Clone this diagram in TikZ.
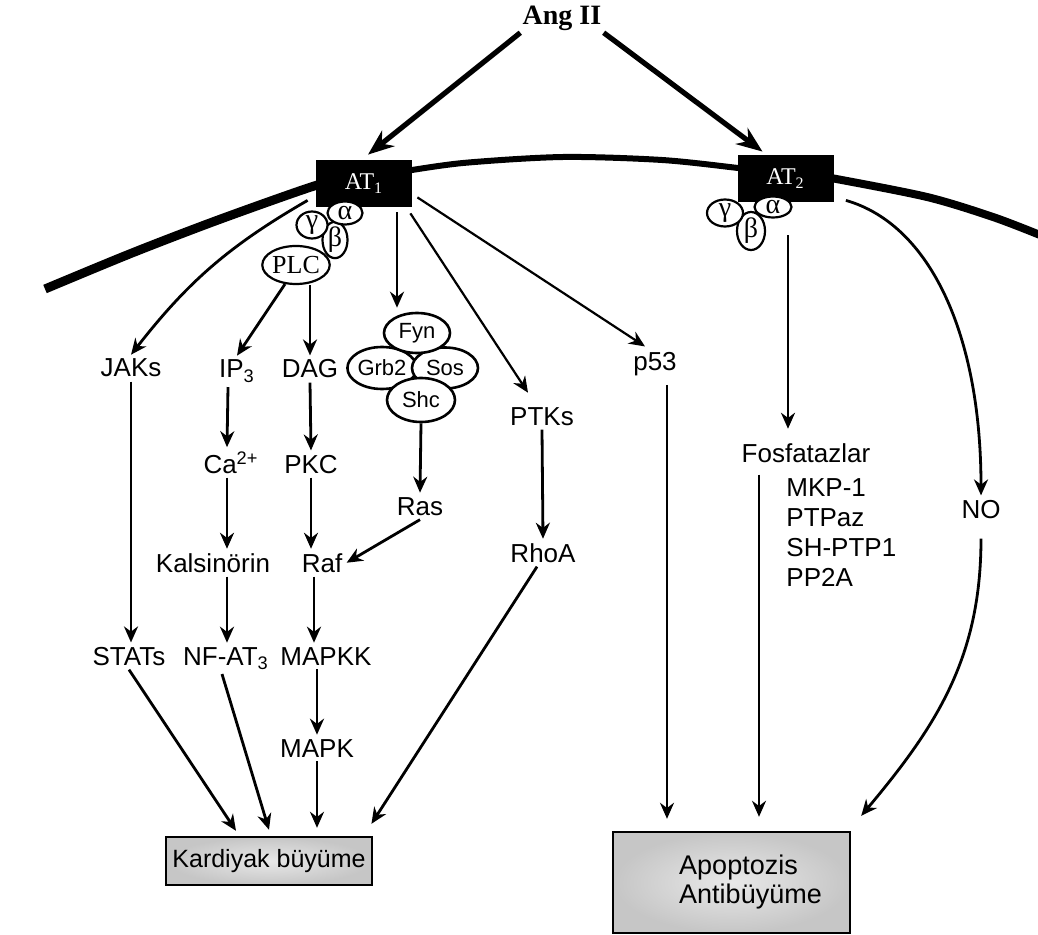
\documentclass[tikz,border=0pt]{standalone}
\usepackage{fontspec}
\setmainfont{Liberation Sans}
\newfontfamily\serifrm{Liberation Serif}
\usetikzlibrary{arrows.meta,calc,shapes.geometric}

\begin{document}
\begin{tikzpicture}[x=0.5pt, y=0.5pt,
          lbl/.style   = {font=\fontsize{13}{15}\selectfont, inner sep=2pt, anchor=base},
          rec/.style   = {fill=black, text=white, minimum width=48pt, minimum height=23.5pt,
                          inner sep=0pt, font=\serifrm\fontsize{12}{14}\selectfont},
          gp/.style    = {ellipse, draw, line width=1.1pt, fill=white, inner sep=0pt,
                          font=\serifrm\fontsize{14}{16}\selectfont},
          cplx/.style  = {ellipse, draw, line width=1.3pt, fill=white, inner sep=0pt,
                          font=\fontsize{11}{13}\selectfont},
          gbox/.style  = {draw, line width=1.2pt, shading=radial, inner color=gray!18, outer color=gray!45},
          arr/.style   = {-{Stealth[length=8pt,width=7pt]}, line width=1.4pt},
          tarr/.style  = {-{Stealth[length=8pt,width=7pt]}, line width=1.1pt},
          bigarr/.style= {-{Stealth[length=13pt,width=10pt]}, line width=2.6pt}
        ]
        \useasboundingbox (0,0) rectangle (1038,-935);

        % --- membrane
        \draw[line width=4.5pt] plot[smooth] coordinates {(45,-289) (132,-253) (218,-220) (311,-187) (340,-180)};
        \draw[line width=3pt]   plot[smooth] coordinates {(400,-172) (463,-163) (563,-157) (662,-160) (738,-168) (760,-171)};
        \draw[line width=4pt]   plot[smooth] coordinates {(815,-176) (831,-178) (927,-197) (993,-217) (1040,-235)};

        % --- receptors
        \node[font=\serifrm\bfseries\fontsize{14}{16}\selectfont, inner sep=1pt] (ang) at (562,-18) {Ang II};
        \node[rec] (AT1) at (364,-183.5) {AT\textsubscript{1}};
        \node[rec] (AT2) at (785.5,-178.5) {AT\textsubscript{2}};

        % --- G proteins
        \node[gp, minimum width=12.5pt, minimum height=17.5pt] (be1) at (335,-240) {β};
        \node[gp, minimum width=15.5pt, minimum height=13.5pt] (ga1) at (312,-225) {γ};
        \node[gp, minimum width=17.5pt, minimum height=11.5pt] (al1) at (345,-213) {α};
        \node[gp, minimum width=33pt, minimum height=19pt, font=\serifrm\fontsize{13}{15}\selectfont] (plc) at (296,-265) {PLC};
        \node[gp, minimum width=14pt, minimum height=19pt] (be2) at (751,-231) {β};
        \node[gp, minimum width=18pt, minimum height=13.5pt] (ga2) at (725,-213) {γ};
        \node[gp, minimum width=18.5pt, minimum height=10.5pt] (al2) at (773,-207) {α};

        % --- Fyn complex
        \node[cplx, minimum width=31pt, minimum height=21pt]   (grb) at (382,-368) {Grb2};
        \node[cplx, minimum width=33pt, minimum height=20.5pt] (sos) at (445,-368) {Sos};
        \node[cplx, minimum width=33pt, minimum height=20pt]   (fyn) at (417,-333) {Fyn};
        \node[cplx, minimum width=34pt, minimum height=22pt]   (shc) at (421,-400) {Shc};

        % --- labels
        \node[lbl] (jaks)  at (131,-377) {JAKs};
        \node[lbl] (ip3)   at (237,-378) {IP\textsubscript{3}};
        \node[lbl] (dag)   at (310,-378) {DAG};
        \node[lbl] (ptks)  at (542,-425) {PTKs};
        \node[lbl] (p53)   at (655,-371) {p53};
        \node[lbl] (ca)    at (231,-473) {Ca\textsuperscript{2+}};
        \node[lbl] (pkc)   at (311,-473) {PKC};
        \node[lbl] (ras)   at (420,-515) {Ras};
        \node[lbl] (kal)   at (213,-572) {Kalsinörin};
        \node[lbl] (raf)   at (322,-572) {Raf};
        \node[lbl] (rhoa)  at (543,-562) {RhoA};
        \node[lbl] (stats) at (129,-665) {STATs};
        \node[lbl] (nfat)  at (226,-665) {NF-AT\textsubscript{3}};
        \node[lbl] (mapkk) at (326,-665) {MAPKK};
        \node[lbl] (mapk)  at (317,-757) {MAPK};
        \node[lbl] (fosf)  at (806,-462) {Fosfatazlar};
        \node[lbl, anchor=north west, inner sep=0pt, align=left] (fzl) at (786,-478) {MKP-1\\PTPaz\\SH-PTP1\\PP2A};
        \node[lbl] (no)    at (981,-518) {NO};

        % --- outcome boxes
        \node[gbox, minimum width=95pt, minimum height=24pt, font=\fontsize{12.5}{14}\selectfont] (kard) at (269,-861) {Kardiyak büyüme};
        \node[gbox, minimum width=118.5pt, minimum height=50.5pt] (apop) at (731.5,-882.5) {};
        \node[font=\fontsize{13.5}{14.5}\selectfont, align=left] (apoptxt) at ($(apop.center)+(19,0)$) {Apoptozis\\Antibüyüme};

        % --- Ang II to receptors
        \draw[bigarr] (ang.south west) -- ($(AT1.north)+(4,5)$);
        \draw[bigarr] (ang.south east) -- ($(AT2.north)+(-23,3)$);

        % --- AT1 branches
        \draw[arr] ($(AT1.south west)+(-8,7)$) to[out=210,in=52] (jaks.north);
        \draw[arr] (plc.240) -- (ip3.north);
        \draw[arr] (plc.south -| dag.north) -- (dag.north);
        \draw[arr] ($(AT1.south)+(33,-5)$) -- ($(fyn.north)+(-20,4)$);
        \draw[tarr] ($(AT1.south east)+(-2,-6)$) -- ($(ptks.north)+(-14,10)$);
        \draw[tarr] ($(AT1.south east)+(5,10)$) -- ($(p53.north)+(-10,2)$);

        % --- cascades
        \draw[arr] (jaks.south) -- (jaks.south |- stats.north);
        \draw[arr] ($(ip3.south)+(-9,0)$) -- ($(ca.north)+(-4,0)$);
        \draw[arr] (dag.south) -- (pkc.north);
        \draw[arr] (shc.south) -- (ras.north);
        \draw[arr] (ptks.south) -- (rhoa.north);
        \draw[arr] ($(ca.south)+(-4,0)$) -- ($(ca.south |- kal.north)+(-4,0)$);
        \draw[arr] (pkc.south) -- (pkc.south |- raf.north);
        \draw[arr] (ras.south) -- (raf.east);
        \draw[arr] ($(kal.south)+(14,0)$) -- ($(kal.south |- nfat.north)+(14,0)$);
        \draw[arr] ($(raf.south)+(-8,0)$) -- ($(raf.south |- mapkk.north)+(-8,0)$);
        \draw[arr] ($(mapkk.south)+(-9,0)$) -- (mapk.north);

        % --- into Kardiyak buyume
        \draw[arr] (stats.south) -- ($(kard.north)+(-33,5)$);
        \draw[arr] ($(nfat.south)+(-4,0)$) -- ($(kard.north)+(0,6)$);
        \draw[arr] (mapk.south) -- ($(mapk.south |- kard.north)+(0,8)$);
        \draw[arr] ($(rhoa.south)+(-6,0)$) -- ($(kard.north east)+(-2,12)$);

        % --- AT2 branches
        \draw[arr] ($(AT2.south)+(2.5,-33)$) -- ($(fosf.north)+(-18,10)$);
        \draw[arr] ($(AT2.south east)+(12,2)$) to[out=-16,in=90,out looseness=0.7,in looseness=1.25] (no.north);

        % --- into Apoptozis
        \draw[tarr] ($(p53.south)+(12,-4)$) -- ($(apop.north)+(-64.5,12)$);
        \draw[tarr] ($(fosf.south)+(-47,-8)$) -- ($(apop.north)+(27.5,14)$);
        \draw[arr] ($(no.south)+(0,-16)$) to[out=-90,in=50] ($(apop.north east)+(10,15)$);
\end{tikzpicture}
\end{document}
